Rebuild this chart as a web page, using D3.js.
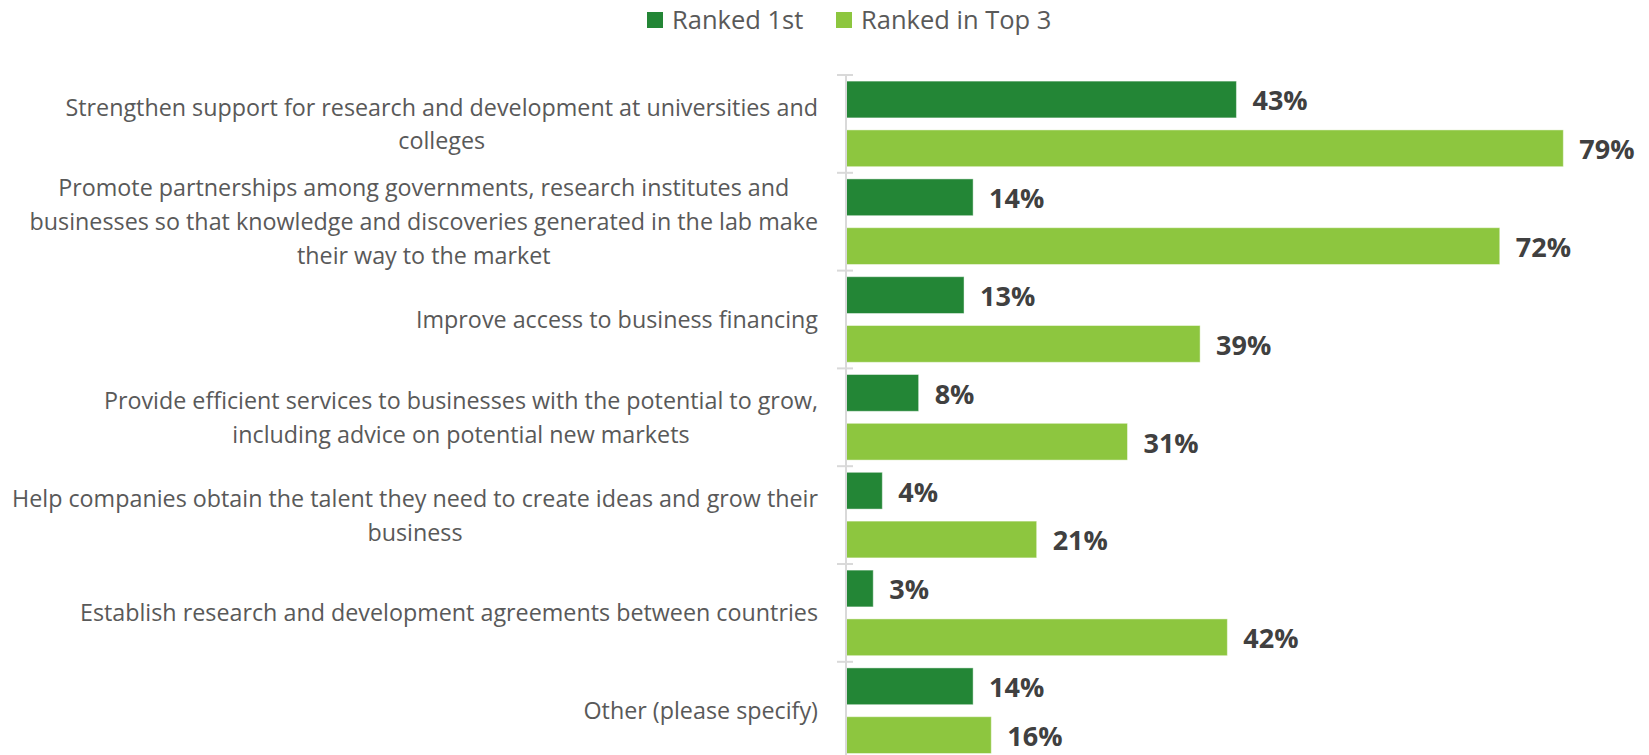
<!DOCTYPE html>
<html>
<head>
<meta charset="utf-8">
<script src="https://cdn.jsdelivr.net/npm/d3@7"></script>
<style>
  html, body { margin: 0; padding: 0; background: #fff; }
  svg { display: block; font-family: "Open Sans", "Noto Sans", sans-serif; }
</style>
</head>
<body>
<svg id="chart" width="1649" height="755"></svg>
<script>
// Survey answers, each split into the lines shown beside the axis
const categories = [
  ["Strengthen support for research and development at universities and", "colleges"],
  ["Promote partnerships among governments, research institutes and", "businesses so that knowledge and discoveries generated in the lab make", "their way to the market"],
  ["Improve access to business financing"],
  ["Provide efficient services to businesses with the potential to grow,", "including advice on potential new markets"],
  ["Help companies obtain the talent they need to create ideas and grow their", "business"],
  ["Establish research and development agreements between countries"],
  ["Other (please specify)"]
];
const seriesNames = ["Ranked 1st", "Ranked in Top 3"];
const rankedFirst = [43, 14, 13, 8, 4, 3, 14];
const rankedTop3 = [79, 72, 39, 31, 21, 42, 16];
const seriesColors = ["#238636", "#8dc63f"];

const svg = d3.select("#chart");
const axisX = 846;
const plotTop = 75;
const step = 97.8;

const ids = categories.map((_, i) => i);
const y = d3.scaleBand().domain(ids).range([plotTop, plotTop + step * ids.length]).paddingInner(0).paddingOuter(0);
const ySub = d3.scaleBand().domain([0, 1]).range([0, y.bandwidth()]).paddingInner(0.246).paddingOuter(0.125);
const x = d3.scaleLinear().domain([0, 90]).range([axisX, axisX + 90 * 9.08]);

const rows = ids.map(i => ({ i, values: [rankedFirst[i], rankedTop3[i]] }));

// Bars
const groups = svg.append("g").selectAll("g").data(rows).join("g")
  .attr("transform", d => `translate(0,${y(d.i)})`);

groups.selectAll("rect").data(d => d.values.map((v, s) => ({ v, s }))).join("rect")
  .attr("x", x(0))
  .attr("y", d => ySub(d.s))
  .attr("width", d => x(d.v) - x(0))
  .attr("height", ySub.bandwidth())
  .attr("fill", d => seriesColors[d.s])
  .attr("stroke", "rgba(255,255,255,0.45)")
  .attr("stroke-width", 1);

// Value labels
groups.selectAll("text.val").data(d => d.values.map((v, s) => ({ v, s }))).join("text")
  .attr("class", "val")
  .attr("x", d => x(d.v) + 16)
  .attr("y", d => ySub(d.s) + ySub.bandwidth() / 2 + 11)
  .attr("font-size", 27)
  .attr("font-weight", 700)
  .attr("fill", "#404040")
  .text(d => d.v + "%");

// Category axis line with crossing ticks at the band boundaries
const axisG = svg.append("g");
axisG.append("line")
  .attr("x1", axisX).attr("x2", axisX)
  .attr("y1", y.range()[0]).attr("y2", y.range()[1])
  .attr("stroke", "#d9d9d9").attr("stroke-width", 2);
axisG.selectAll("line.tick").data(d3.range(ids.length + 1)).join("line")
  .attr("class", "tick")
  .attr("x1", axisX - 9).attr("x2", axisX + 7)
  .attr("y1", d => plotTop + d * step).attr("y2", d => plotTop + d * step)
  .attr("stroke", "#d9d9d9").attr("stroke-width", 2);

// Category labels: block right-aligned to the axis, lines centred in the block
const labelRight = 818;
const lineH = 33.8;
const labels = svg.append("g").selectAll("g").data(rows).join("g");
labels.each(function (d) {
  const g = d3.select(this);
  const lines = categories[d.i];
  const cy = y(d.i) + y.bandwidth() / 2;
  const texts = lines.map((ln, k) => g.append("text")
    .attr("font-size", 23.3)
    .attr("fill", "#595959")
    .attr("text-anchor", "middle")
    .attr("y", cy + (k - (lines.length - 1) / 2) * lineH + 8.5)
    .text(ln));
  const w = d3.max(texts, t => t.node().getComputedTextLength());
  texts.forEach(t => t.attr("x", labelRight - w / 2));
});

// Legend
const legend = svg.append("g");
const legendX = [647, 836];
seriesNames.forEach((name, s) => {
  legend.append("rect")
    .attr("x", legendX[s]).attr("y", 12)
    .attr("width", 16).attr("height", 16)
    .attr("fill", seriesColors[s]);
  legend.append("text")
    .attr("x", legendX[s] + 25).attr("y", 28.5)
    .attr("font-size", 25.5)
    .attr("fill", "#595959")
    .text(name);
});
</script>
</body>
</html>
